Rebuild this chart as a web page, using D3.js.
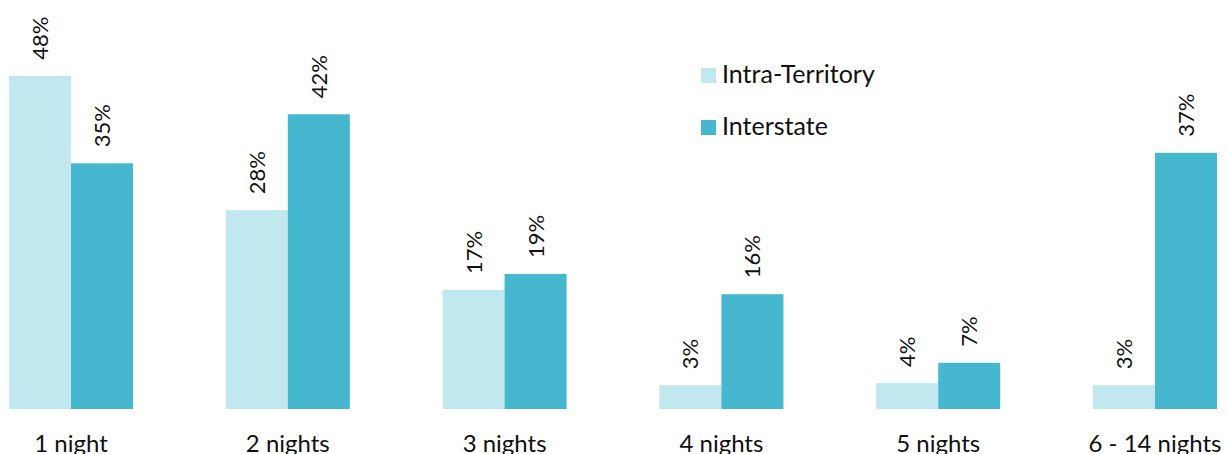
<!DOCTYPE html>
<html>
<head>
<meta charset="utf-8">
<script src="https://cdn.jsdelivr.net/npm/d3@7"></script>
<style>
  html, body { margin: 0; padding: 0; background: #fff; }
  svg { display: block; }
  text { font-family: Lato, "Open Sans", sans-serif; fill: #111; }
</style>
</head>
<body>
<svg id="chart" width="1227" height="454"></svg>
<script>
const categories = ["1 night", "2 nights", "3 nights", "4 nights", "5 nights", "6 - 14 nights"];
const seriesNames = ["Intra-Territory", "Interstate"];
const intraTerritory = [47.6, 28.4, 17.0, 3.4, 3.7, 3.4];
const interstate = [35.1, 42.1, 19.3, 16.4, 6.6, 36.6];
const intraLabels = ["48%", "28%", "17%", "3%", "4%", "3%"];
const interLabels = ["35%", "42%", "19%", "16%", "7%", "37%"];
const colors = ["#c1e8ef", "#45b8d0"];

const svg = d3.select("#chart");
const baseline = 409;

const x0 = d3.scaleBand().domain(categories).range([-37.4, 1263.4])
  .paddingInner(0.428).paddingOuter(0.214);
const x1 = d3.scaleBand().domain(seriesNames).range([0, x0.bandwidth()]).padding(0);
const y = d3.scaleLinear().domain([0, 50]).range([baseline, baseline - 350]);

const rows = categories.map((c, i) => ({
  cat: c,
  vals: [
    { s: seriesNames[0], v: intraTerritory[i], lab: intraLabels[i] },
    { s: seriesNames[1], v: interstate[i], lab: interLabels[i] }
  ]
}));

const g = svg.append("g");
const groups = g.selectAll("g.grp").data(rows).join("g")
  .attr("class", "grp")
  .attr("transform", d => `translate(${x0(d.cat)},0)`);

groups.selectAll("rect").data(d => d.vals).join("rect")
  .attr("x", d => x1(d.s))
  .attr("y", d => y(d.v))
  .attr("width", x1.bandwidth())
  .attr("height", d => y(0) - y(d.v))
  .attr("fill", (d, i) => colors[i]);

groups.selectAll("text.val").data(d => d.vals).join("text")
  .attr("class", "val")
  .attr("transform", d => `translate(${x1(d.s) + x1.bandwidth() / 2},${y(d.v) - 16}) rotate(-90)`)
  .attr("dy", "0.36em")
  .attr("text-anchor", "start")
  .style("font-size", "22px")
  .text(d => d.lab);

// category axis labels
const xAxis = d3.axisBottom(x0).tickSize(0).tickPadding(0);
const ax = svg.append("g").attr("transform", `translate(0,${baseline})`).call(xAxis);
ax.select(".domain").remove();
ax.selectAll("text")
  .attr("y", 43)
  .attr("dy", 0)
  .style("font-size", "24px")
  .style("font-family", "Lato, 'Open Sans', sans-serif")
  .attr("fill", "#111");

// legend
const legend = svg.append("g").attr("transform", "translate(701,0)");
const legY = [68, 120];
seriesNames.forEach((s, i) => {
  legend.append("rect").attr("x", 0).attr("y", legY[i]).attr("width", 15).attr("height", 15).attr("fill", colors[i]);
  legend.append("text").attr("x", 21).attr("y", legY[i] + 15).style("font-size", "25px").text(s);
});
</script>
</body>
</html>
